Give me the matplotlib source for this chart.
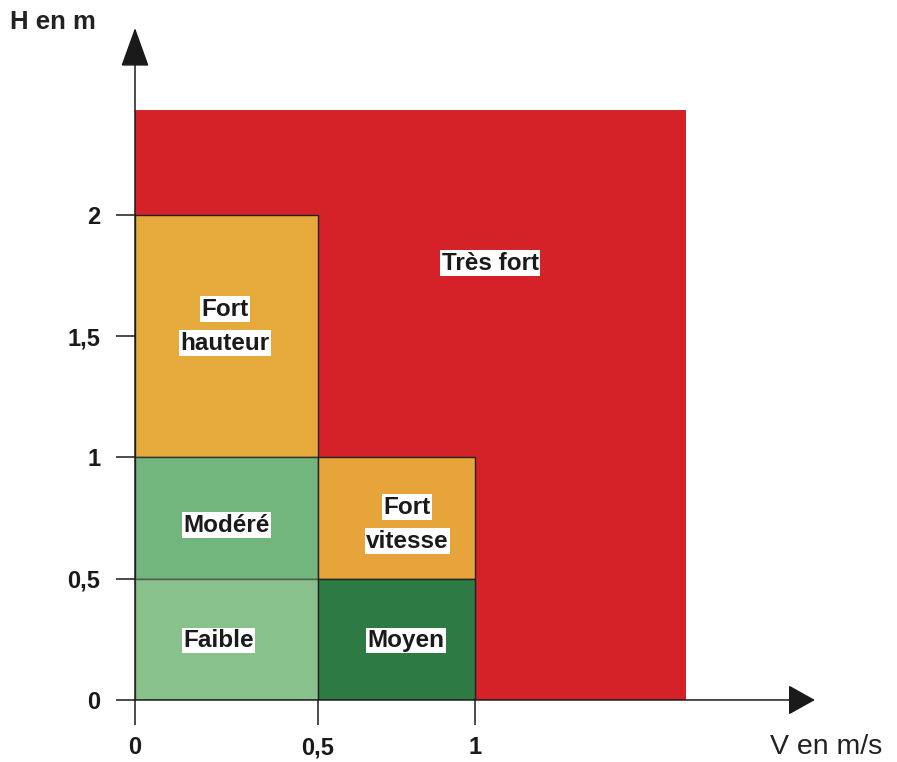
import numpy as np
import matplotlib.pyplot as plt
from matplotlib.patches import Rectangle

plt.rcParams['font.family'] = ['Liberation Sans', 'DejaVu Sans']

# Classes d'aléa : hauteur H (m) en fonction de la vitesse V (m/s)
labels = [["Très fort"], ["Fort", "hauteur"], ["Modéré"], ["Faible"],
          ["Fort", "vitesse"], ["Moyen"]]
v_min = [0.0, 0.0, 0.0, 0.0, 0.5, 0.5]
v_max = [1.62, 0.5, 0.5, 0.5, 1.0, 1.0]
h_min = [0.0, 1.0, 0.5, 0.0, 0.5, 0.0]
h_max = [2.43, 2.0, 1.0, 0.5, 1.0, 0.5]
# where the label sits inside each zone
label_v = [1.045, 0.245, 0.25, 0.228, 0.785, 0.78]
label_h = [1.80, 1.54, 0.72, 0.245, 0.725, 0.245]

colors = ['#d52229', '#e6a93c', '#72b67e', '#88c18b', '#e6a43a', '#2d7a45']
edges = ['none', '#222222', '#333333', '#555555', '#222222', '#222222']

xticks = [0, 0.5, 1]
xticklabels = ['0', '0,5', '1']
yticks = [0, 0.5, 1, 1.5, 2]
yticklabels = ['0', '0,5', '1', '1,5', '2']

# the scanned chart is not evenly spaced along V
v_knots = [0, 0.5, 1, 3]
pos_knots = [0, 0.538, 1, 3]


def fwd(v):
    return np.interp(v, v_knots, pos_knots)


def inv(p):
    return np.interp(p, pos_knots, v_knots)


fig = plt.figure(figsize=(8.97, 7.62), dpi=100)
ax = fig.add_axes([0.1505, 0.0814, 0.758, 0.882])
ax.set_xscale('function', functions=(fwd, inv))
ax.set_xlim(0, 2.0)
ax.set_ylim(0, 2.77)

for i in range(len(labels)):
    ax.add_patch(Rectangle((v_min[i], h_min[i]), v_max[i] - v_min[i],
                           h_max[i] - h_min[i], facecolor=colors[i],
                           edgecolor=edges[i], lw=1.0, zorder=1 + i * 0.01))
    lines = labels[i]
    n = len(lines)
    for j, line in enumerate(lines):
        off = (n - 1) / 2 * 24.5 - j * 24.5
        ax.annotate(line, (label_v[i], label_h[i]), xytext=(0, off),
                    textcoords='offset points', ha='center', va='center',
                    fontsize=17.5, fontweight='bold', color='#1a1a1a',
                    bbox=dict(facecolor='white', edgecolor='none', pad=1.0),
                    zorder=5)

for s in ax.spines.values():
    s.set_visible(False)

# axes with arrow heads
ax.annotate('', xy=(2.0, 0), xytext=(0, 0), annotation_clip=False,
            arrowprops=dict(arrowstyle='-|>,head_length=1.7,head_width=0.95',
                            color='#1a1a1a', lw=1.1, shrinkA=0, shrinkB=0),
            zorder=6)
ax.annotate('', xy=(0, 2.77), xytext=(0, 0), annotation_clip=False,
            arrowprops=dict(arrowstyle='-|>,head_length=2.5,head_width=0.9',
                            color='#1a1a1a', lw=1.1, shrinkA=0, shrinkB=0),
            zorder=6)

ax.set_xticks(xticks)
ax.set_xticklabels(xticklabels)
ax.set_yticks(yticks)
ax.set_yticklabels(yticklabels)
ax.tick_params(axis='x', direction='out', length=18, width=1.1, pad=8,
               labelsize=17, colors='#1a1a1a')
ax.tick_params(axis='y', direction='out', length=14, width=1.1, pad=11,
               labelsize=17, colors='#1a1a1a')
for t in ax.get_xticklabels() + ax.get_yticklabels():
    t.set_fontweight('bold')

fig.text(10 / 897, 1 - 22 / 762, 'H en m', fontsize=18.5, fontweight='bold',
         color='#222222', va='center', ha='left')
fig.text(770 / 897, 1 - 747 / 762, 'V en m/s', fontsize=20.5,
         color='#222222', va='center', ha='left')

fig.savefig('out.png', dpi=100)
